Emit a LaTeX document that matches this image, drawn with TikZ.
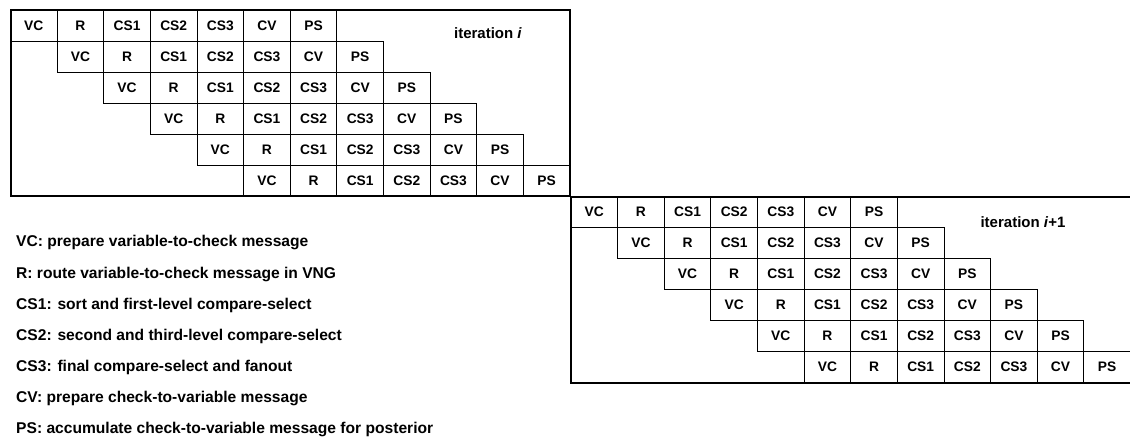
\documentclass[tikz,border=0pt]{standalone}
\usepackage{fontspec}
\setmainfont{Liberation Sans}
\usetikzlibrary{positioning}
\tikzset{
  etapa/.style={draw,line width=0.9pt,minimum width=46.625pt,minimum height=31pt,
                inner sep=0pt,font=\fontsize{13.8}{15}\selectfont\bfseries},
  marco/.style={draw,line width=2pt},
  tit/.style={inner sep=0pt,font=\fontsize{15}{18}\selectfont\bfseries},
  leyenda/.style={anchor=west,inner sep=0pt,font=\fontsize{15.6}{18}\selectfont\bfseries},
}

\begin{document}
\begin{tikzpicture}[x=1pt,y=-1pt]
\useasboundingbox (0,0) rectangle (1130,441);

% ---------------- dos iteraciones del pipeline ----------------
\foreach \ox/\oy/\it in {10.5/10/a, 571/196.5/b}{
  \foreach \fila in {0,...,5}{
    \foreach \et [count=\k from 0] in {VC,R,CS1,CS2,CS3,CV,PS}{
      \node[etapa] (\it-\fila-\k) at ({\ox+(\fila+\k+0.5)*46.625},{\oy+(\fila+0.5)*31}) {\et};
    }
  }
  \coordinate (\it-no) at (\ox,\oy);
  \coordinate (\it-se) at ({\ox+12*46.625},{\oy+186});
  \draw[marco] (\it-no) rectangle (\it-se);
}

\node[tit] (tit-a) at (488,33)  {iteration \textit{i}};
\node[tit] (tit-b) at (1023,222) {iteration \textit{i}+1};

% ---------------- leyenda ----------------
\node[leyenda] (l1) at (16,243) {VC: prepare variable-to-check message};
\node[leyenda] (l2) at (16,274) {R: route variable-to-check message in VNG};
\node[leyenda] (l3) at (16,305) {CS1: sort and first-level compare-select};
\node[leyenda] (l4) at (16,336) {CS2: second and third-level compare-select};
\node[leyenda] (l5) at (16,367) {CS3: final compare-select and fanout};
\node[leyenda] (l6) at (16,398) {CV: prepare check-to-variable message};
\node[leyenda] (l7) at (16,429) {PS: accumulate check-to-variable message for posterior};

\end{tikzpicture}
\end{document}
